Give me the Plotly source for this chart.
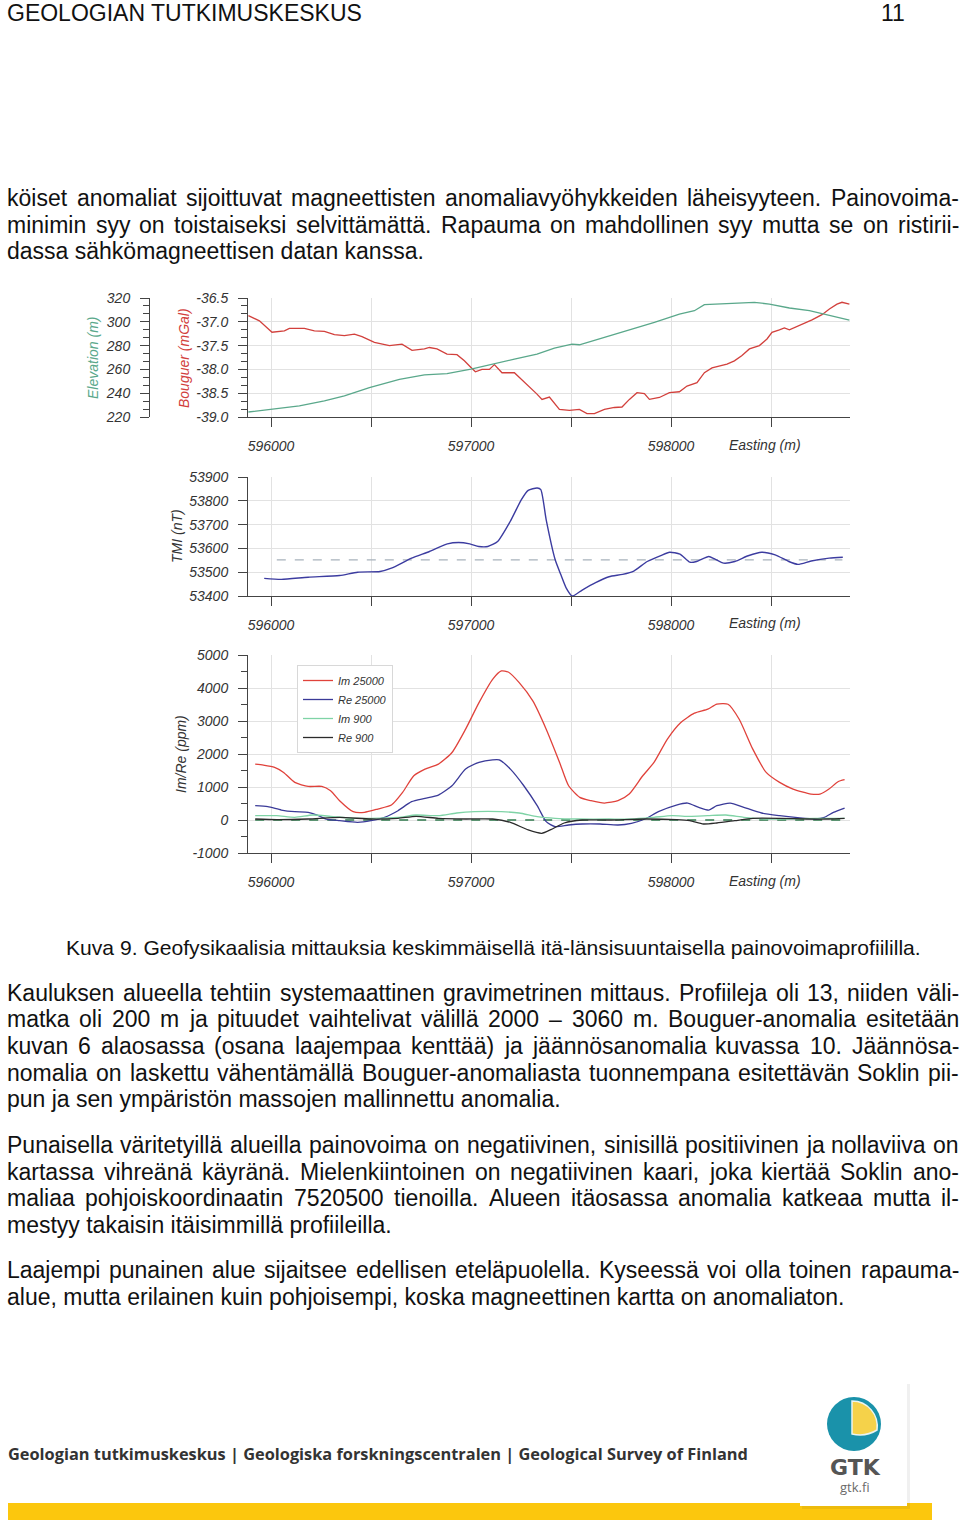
import plotly.graph_objects as go

# ---------------- data ----------------
bouguer_e = [595887, 595942, 596005, 596067, 596092, 596167, 596217, 596267, 596317, 596367, 596417, 596455,
             596517, 596592, 596655, 596705, 596767, 596792, 596830, 596880, 596930, 596967, 597000, 597022,
             597055, 597092, 597117, 597155, 597217, 597280, 597330, 597355, 597392, 597442, 597492, 597542,
             597580, 597617, 597667, 597717, 597755, 597792, 597830, 597867, 597892, 597942, 597992, 598042,
             598080, 598130, 598167, 598205, 598242, 598280, 598317, 598355, 598392, 598442, 598480, 598505,
             598542, 598567, 598592, 598642, 598705, 598755, 598792, 598830, 598855, 598892]
bouguer_v = [-36.87, -36.98, -37.22, -37.19, -37.14, -37.14, -37.19, -37.20, -37.27, -37.29, -37.26, -37.31,
             -37.43, -37.50, -37.47, -37.60, -37.57, -37.54, -37.57, -37.68, -37.69, -37.82, -37.96, -38.05,
             -38.00, -38.00, -37.90, -38.07, -38.07, -38.31, -38.52, -38.63, -38.58, -38.84, -38.86, -38.84,
             -38.93, -38.93, -38.84, -38.80, -38.79, -38.63, -38.49, -38.51, -38.63, -38.59, -38.49, -38.47,
             -38.35, -38.28, -38.07, -37.97, -37.93, -37.89, -37.82, -37.71, -37.57, -37.50, -37.36, -37.22,
             -37.17, -37.13, -37.17, -37.08, -36.96, -36.85, -36.73, -36.63, -36.59, -36.63]

elev_e = [595887, 595992, 596142, 596267, 596367, 596492, 596642, 596767, 596880, 597000, 597117, 597217,
          597330, 597417, 597505, 597542, 597667, 597792, 597917, 598042, 598117, 598167, 598292, 598417,
          598492, 598592, 598692, 598792, 598892]
elev_v = [224.2, 226.5, 229.3, 233.5, 237.7, 244.7, 251.7, 255.4, 256.5, 260.2, 264.9, 268.6, 272.8, 277.9,
          281.2, 280.7, 286.9, 293.0, 299.5, 306.5, 309.3, 314.4, 315.5, 316.3, 314.9, 311.6, 309.3, 305.1, 301.5]

tmi_e = [595966, 596052, 596186, 596343, 596433, 596545, 596602, 596703, 596792, 596882, 596938, 596994,
         597039, 597084, 597133, 597196, 597252, 597286, 597331, 597349, 597376, 597421, 597450, 597477,
         597506, 597556, 597623, 597690, 597758, 597814, 597881, 597949, 597993, 598045, 598094, 598128,
         598189, 598218, 598263, 598319, 598386, 598453, 598521, 598589, 598634, 598701, 598791, 598859]
tmi_v = [53474, 53470, 53479, 53486, 53500, 53503, 53517, 53559, 53587, 53619, 53625, 53619, 53608, 53608,
         53629, 53713, 53805, 53844, 53854, 53847, 53720, 53552, 53488, 53432, 53400, 53425, 53456, 53481,
         53491, 53505, 53545, 53570, 53584, 53576, 53542, 53545, 53566, 53556, 53538, 53545, 53569, 53584,
         53573, 53545, 53533, 53547, 53559, 53563]
tmi_ref_e = [596029, 598857]
tmi_ref_v = [53552, 53552]

im25_e = [595921, 595962, 596018, 596063, 596119, 596186, 596254, 596298, 596343, 596411, 596467, 596534,
          596602, 596658, 596714, 596770, 596837, 596905, 596973, 597040, 597108, 597152, 597186, 597241,
          597309, 597376, 597443, 597488, 597544, 597600, 597667, 597735, 597791, 597859, 597915, 597982,
          598049, 598117, 598184, 598229, 598285, 598341, 598409, 598476, 598543, 598610, 598700, 598745,
          598790, 598835, 598868]
im25_v = [1694, 1663, 1593, 1441, 1139, 1018, 1018, 887, 585, 252, 232, 333, 454, 837, 1341, 1542, 1694,
          2046, 2752, 3558, 4264, 4516, 4486, 4163, 3609, 2752, 1744, 1038, 685, 585, 514, 585, 786, 1341,
          1744, 2450, 2954, 3236, 3357, 3508, 3508, 3054, 2147, 1442, 1139, 938, 786, 786, 938, 1159, 1220]

re25_e = [595921, 595984, 596052, 596119, 596186, 596231, 596276, 596343, 596433, 596500, 596568, 596635,
          596703, 596770, 596837, 596905, 596973, 597040, 597108, 597141, 597197, 597264, 597331, 597376,
          597421, 597488, 597556, 597645, 597735, 597802, 597870, 597937, 598027, 598083, 598139, 598189,
          598229, 598296, 598364, 598453, 598543, 598633, 598722, 598767, 598812, 598868]
re25_v = [433, 403, 302, 252, 232, 151, 30, -20, -71, -20, 81, 282, 554, 655, 756, 1038, 1542, 1744, 1825,
          1825, 1542, 1038, 433, -50, -202, -151, -121, -121, -151, -101, 30, 252, 454, 514, 383, 302, 433,
          514, 383, 212, 131, 71, 30, 81, 232, 363]

im9_e = [595921, 596029, 596119, 596209, 596298, 596411, 596500, 596635, 596725, 596837, 596928, 597018,
         597152, 597241, 597331, 597421, 597533, 597690, 597802, 597915, 598004, 598094, 598184, 598274,
         598364, 598476, 598588, 598722, 598868]
im9_v = [131, 131, 81, 151, 111, 50, 50, 81, 151, 131, 212, 252, 252, 212, 101, 50, 30, 30, 30, 81, 131,
         111, 131, 151, 81, 30, 30, 50, 50]

re9_e = [595921, 596029, 596186, 596343, 596500, 596635, 596725, 596837, 596973, 597108, 597197, 597286,
         597354, 597399, 597466, 597556, 597690, 597870, 598027, 598094, 598162, 598229, 598319, 598409,
         598543, 598678, 598790, 598868]
re9_v = [30, 10, 30, 81, 30, 50, 111, 50, 30, 30, -71, -302, -403, -292, -91, 0, 0, 30, 10, -20, -121, -91,
         -20, 50, 50, 30, 30, 50]

em_zero_e = [595921, 598868]
em_zero_v = [0, 0]

em_names = ["Im 25000", "Re 25000", "Im 900", "Re 900"]
bouguer_ticks = [-39.0, -38.5, -38.0, -37.5, -37.0, -36.5]
em_ticks = [-1000, 0, 1000, 2000, 3000, 4000, 5000]

header_left = "GEOLOGIAN TUTKIMUSKESKUS"
header_right = "11"
para1 = ["köiset anomaliat sijoittuvat magneettisten anomaliavyöhykkeiden läheisyyteen. Painovoima-",
         "minimin syy on toistaiseksi selvittämättä. Rapauma on mahdollinen syy mutta se on ristirii-",
         "dassa sähkömagneettisen datan kanssa."]
caption = "Kuva 9. Geofysikaalisia mittauksia keskimmäisellä itä-länsisuuntaisella painovoimaprofiililla."
para2 = ["Kauluksen alueella tehtiin systemaattinen gravimetrinen mittaus. Profiileja oli 13, niiden väli-",
         "matka oli 200 m ja pituudet vaihtelivat välillä 2000 – 3060 m. Bouguer-anomalia esitetään",
         "kuvan 6 alaosassa (osana laajempaa kenttää) ja jäännösanomalia kuvassa 10. Jäännösa-",
         "nomalia on laskettu vähentämällä Bouguer-anomaliasta tuonnempana esitettävän Soklin pii-",
         "pun ja sen ympäristön massojen mallinnettu anomalia."]
para3 = ["Punaisella väritetyillä alueilla painovoima on negatiivinen, sinisillä positiivinen ja nollaviiva on",
         "kartassa vihreänä käyränä. Mielenkiintoinen on negatiivinen kaari, joka kiertää Soklin ano-",
         "maliaa pohjoiskoordinaatin 7520500 tienoilla. Alueen itäosassa anomalia katkeaa mutta il-",
         "mestyy takaisin itäisimmillä profiileilla."]
para4 = ["Laajempi punainen alue sijaitsee edellisen eteläpuolella. Kyseessä voi olla toinen rapauma-",
         "alue, mutta erilainen kuin pohjoisempi, koska magneettinen kartta on anomaliaton."]
footer = "Geologian tutkimuskeskus | Geologiska forskningscentralen | Geological Survey of Finland"

# ---------------- helpers ----------------
W, H = 960, 1525
# the photographed page shows the figure's paper between screen rows ~8 and ~1517
TOP, SPAN = 8.0, 1509.0


def px(x):
    return x / W


def py(y):
    return 1 - (y - TOP) / SPAN


AW = {' ': 278, '!': 278, '(': 333, ')': 333, ',': 278, '-': 333, '.': 278, ':': 278, '–': 556,
      'A': 667, 'B': 667, 'C': 722, 'D': 722, 'E': 667, 'F': 611, 'G': 778, 'H': 722, 'I': 278, 'J': 500,
      'K': 667, 'L': 556, 'M': 833, 'N': 722, 'O': 778, 'P': 667, 'Q': 778, 'R': 722, 'S': 667, 'T': 611,
      'U': 722, 'V': 667, 'W': 944, 'X': 667, 'Y': 667, 'Z': 611,
      'a': 556, 'b': 556, 'c': 500, 'd': 556, 'e': 556, 'f': 278, 'g': 556, 'h': 556, 'i': 222, 'j': 222,
      'k': 500, 'l': 222, 'm': 833, 'n': 556, 'o': 556, 'p': 556, 'q': 556, 'r': 333, 's': 500, 't': 278,
      'u': 556, 'v': 500, 'w': 722, 'x': 500, 'y': 500, 'z': 500, 'ä': 556, 'ö': 556, 'å': 556}
for d in '0123456789':
    AW[d] = 556


def tw(s, size):
    return sum(AW.get(c, 556) for c in s) * size / 1000.0


SANS = "Liberation Sans, Arial, sans-serif"
annotations = []


def ann(text, x, y, size, xanchor='left', color="#111111", family=SANS,
        style='normal', weight='normal', angle=0):
    annotations.append(dict(text=text, x=px(x), y=py(y), xref='paper', yref='paper', xanchor=xanchor,
                            yanchor='middle', showarrow=False, borderpad=0, textangle=angle,
                            font=dict(family=family, size=size, color=color, style=style, weight=weight)))


def justified(line, y, left=6, right=958, size=23):
    words = line.split(' ')
    widths = [tw(w, size) for w in words]
    gap = (right - left - sum(widths)) / (len(words) - 1)
    x = left
    for w, wd in zip(words, widths):
        ann(w, x, y, size)
        x += wd + gap


def paragraph(lines, y0, step=26.5):
    for i, line in enumerate(lines):
        y = y0 + i * step
        if i < len(lines) - 1:
            justified(line, y)
        else:
            ann(line, 6, y, 23)


# ---------------- figure ----------------
fig = go.Figure()

fig.add_trace(go.Scatter(x=bouguer_e, y=bouguer_v, xaxis='x', yaxis='y', mode='lines',
                         line=dict(color='#d2403c', width=1.3), showlegend=False))
fig.add_trace(go.Scatter(x=elev_e, y=elev_v, xaxis='x', yaxis='y2', mode='lines',
                         line=dict(color='#5aa88b', width=1.3), showlegend=False))

fig.add_trace(go.Scatter(x=tmi_ref_e, y=tmi_ref_v, xaxis='x2', yaxis='y3', mode='lines',
                         line=dict(color='#a8b2bc', width=1.3, dash='dash'), showlegend=False))
fig.add_trace(go.Scatter(x=tmi_e, y=tmi_v, xaxis='x2', yaxis='y3', mode='lines',
                         line=dict(color='#3c3ca0', width=1.4, shape='spline', smoothing=0.6), showlegend=False))

fig.add_trace(go.Scatter(x=em_zero_e, y=em_zero_v, xaxis='x3', yaxis='y4', mode='lines',
                         line=dict(color='#2f7a4c', width=1.6, dash='dash'), showlegend=False))
em_series = [(im25_e, im25_v, '#e0423b'), (re25_e, re25_v, '#3a3a98'),
             (im9_e, im9_v, '#7fd3a6'), (re9_e, re9_v, '#2b2b2b')]
for name, (ex, ev, col) in zip(em_names, em_series):
    fig.add_trace(go.Scatter(x=ex, y=ev, xaxis='x3', yaxis='y4', mode='lines', name=name,
                             line=dict(color=col, width=1.3, shape='spline', smoothing=0.6)))

tickfont = dict(family=SANS, size=14, color="#333333", style='italic')
grid = '#e2e2e2'
axcol = '#444444'
xdom = [px(248), px(850)]
xcommon = dict(domain=xdom, range=[595885, 598895], tick0=596000, dtick=1000, tickformat='d',
               showgrid=True, gridcolor=grid, gridwidth=1, zeroline=False,
               showline=True, linecolor=axcol, linewidth=1,
               ticks='outside', ticklen=9, tickcolor=axcol, ticklabelstandoff=7, tickfont=tickfont,
               minor=dict(tick0=596000, dtick=500, showgrid=True, gridcolor=grid, ticks='outside',
                          ticklen=9, tickcolor=axcol),
               fixedrange=True)
ycommon = dict(showgrid=True, gridcolor=grid, gridwidth=1, zeroline=False,
               showline=True, linecolor=axcol, linewidth=1,
               ticks='outside', ticklen=9, tickcolor=axcol, ticklabelstandoff=7, tickfont=tickfont,
               fixedrange=True)

fig.update_layout(
    width=W, height=H, margin=dict(l=0, r=0, t=0, b=0),
    paper_bgcolor='white', plot_bgcolor='white',
    xaxis=dict(xcommon, anchor='y'),
    xaxis2=dict(xcommon, anchor='y3'),
    xaxis3=dict(xcommon, anchor='y4'),
    yaxis=dict(ycommon, anchor='x', domain=[py(417), py(298)], range=[-39.0, -36.5],
               tickmode='array', tickvals=bouguer_ticks, ticktext=[f"{v:.1f}" for v in bouguer_ticks],
               minor=dict(tickmode='linear', tick0=-39.0, dtick=0.5 / 3, ticks='outside', ticklen=6,
                          tickcolor=axcol)),
    yaxis2=dict(ycommon, overlaying='y', anchor='free', position=px(149), side='left', range=[220, 320],
                showgrid=False, dtick=20, tick0=220,
                minor=dict(tick0=220, dtick=20 / 3, ticks='outside', ticklen=6, tickcolor=axcol)),
    yaxis3=dict(ycommon, anchor='x2', domain=[py(596), py(477)], range=[53400, 53900], dtick=100,
                tick0=53400, tickformat='d'),
    yaxis4=dict(ycommon, anchor='x3', domain=[py(853), py(655)], range=[-1000, 5000],
                tickmode='array', tickvals=em_ticks, ticktext=[str(v) for v in em_ticks],
                minor=dict(tickmode='linear', tick0=-1000, dtick=500, ticks='outside', ticklen=6,
                           tickcolor=axcol)),
    legend=dict(x=px(297), y=py(665), xanchor='left', yanchor='top', bgcolor='white',
                bordercolor='#d8d8d8', borderwidth=1, tracegroupgap=0, itemwidth=30,
                font=dict(family=SANS, size=11, color='#333333', style='italic')),
    showlegend=True,
)

# axis titles and easting labels
ann("Elevation (m)", 93, 358, 14, xanchor='center', color='#5aa88b', style='italic', angle=-90)
ann("Bouguer (mGal)", 184, 358, 14, xanchor='center', color='#d2403c', style='italic', angle=-90)
ann("TMI (nT)", 177, 536, 14, xanchor='center', color='#333333', style='italic', angle=-90)
ann("Im/Re (ppm)", 181, 754, 14, xanchor='center', color='#333333', style='italic', angle=-90)
for yy in (445, 623, 881):
    ann("Easting (m)", 765, yy, 14, xanchor='center', color='#333333', style='italic')

# page text
ann(header_left, 6, 13, 23)
ann(header_right, 906, 13, 23, xanchor='right')
paragraph(para1, 198)
ann(caption, 65, 948, 21.1)
paragraph(para2, 993)
paragraph(para3, 1145)
paragraph(para4, 1270)
ann(footer, 7, 1454, 16.35, color='#333333', family="Open Sans, Noto Sans, sans-serif", weight='bold')

# logo texts
ann("GTK", 855, 1467, 22, xanchor='center', color='#555555', family="DejaVu Sans, sans-serif",
    weight='bold')
ann("gtk.fi", 855, 1487, 13, xanchor='center', color='#6a6a6a', family="Open Sans, sans-serif")

shapes = [
    dict(type='rect', xref='paper', yref='paper', x0=px(8), x1=px(932), y0=py(1520), y1=py(1503),
         fillcolor='#fcc70d', line=dict(width=0), layer='above'),
    dict(type='rect', xref='paper', yref='paper', x0=px(802), x1=px(910), y0=py(1509), y1=py(1384),
         fillcolor='rgba(0,0,0,0.06)', line=dict(width=0), layer='above'),
    dict(type='rect', xref='paper', yref='paper', x0=px(800), x1=px(907), y0=py(1506), y1=py(1382),
         fillcolor='white', line=dict(width=0), layer='above'),
    dict(type='circle', xref='paper', yref='paper', x0=px(827), x1=px(881), y0=py(1451), y1=py(1397),
         fillcolor='#1a92aa', line=dict(width=0), layer='above'),
    dict(type='path', xref='paper', yref='paper', layer='above',
         path=(f"M {px(852)},{py(1401)} L {px(852)},{py(1434)} "
               f"Q {px(866)},{py(1437)} {px(877)},{py(1430)} "
               f"C {px(879)},{py(1415)} {px(868)},{py(1401)} {px(852)},{py(1401)} Z"),
         fillcolor='#f5d24a', line=dict(color='#e9f4f2', width=1.5)),
]
fig.update_layout(shapes=shapes, annotations=annotations)

fig.write_html("out.html")
